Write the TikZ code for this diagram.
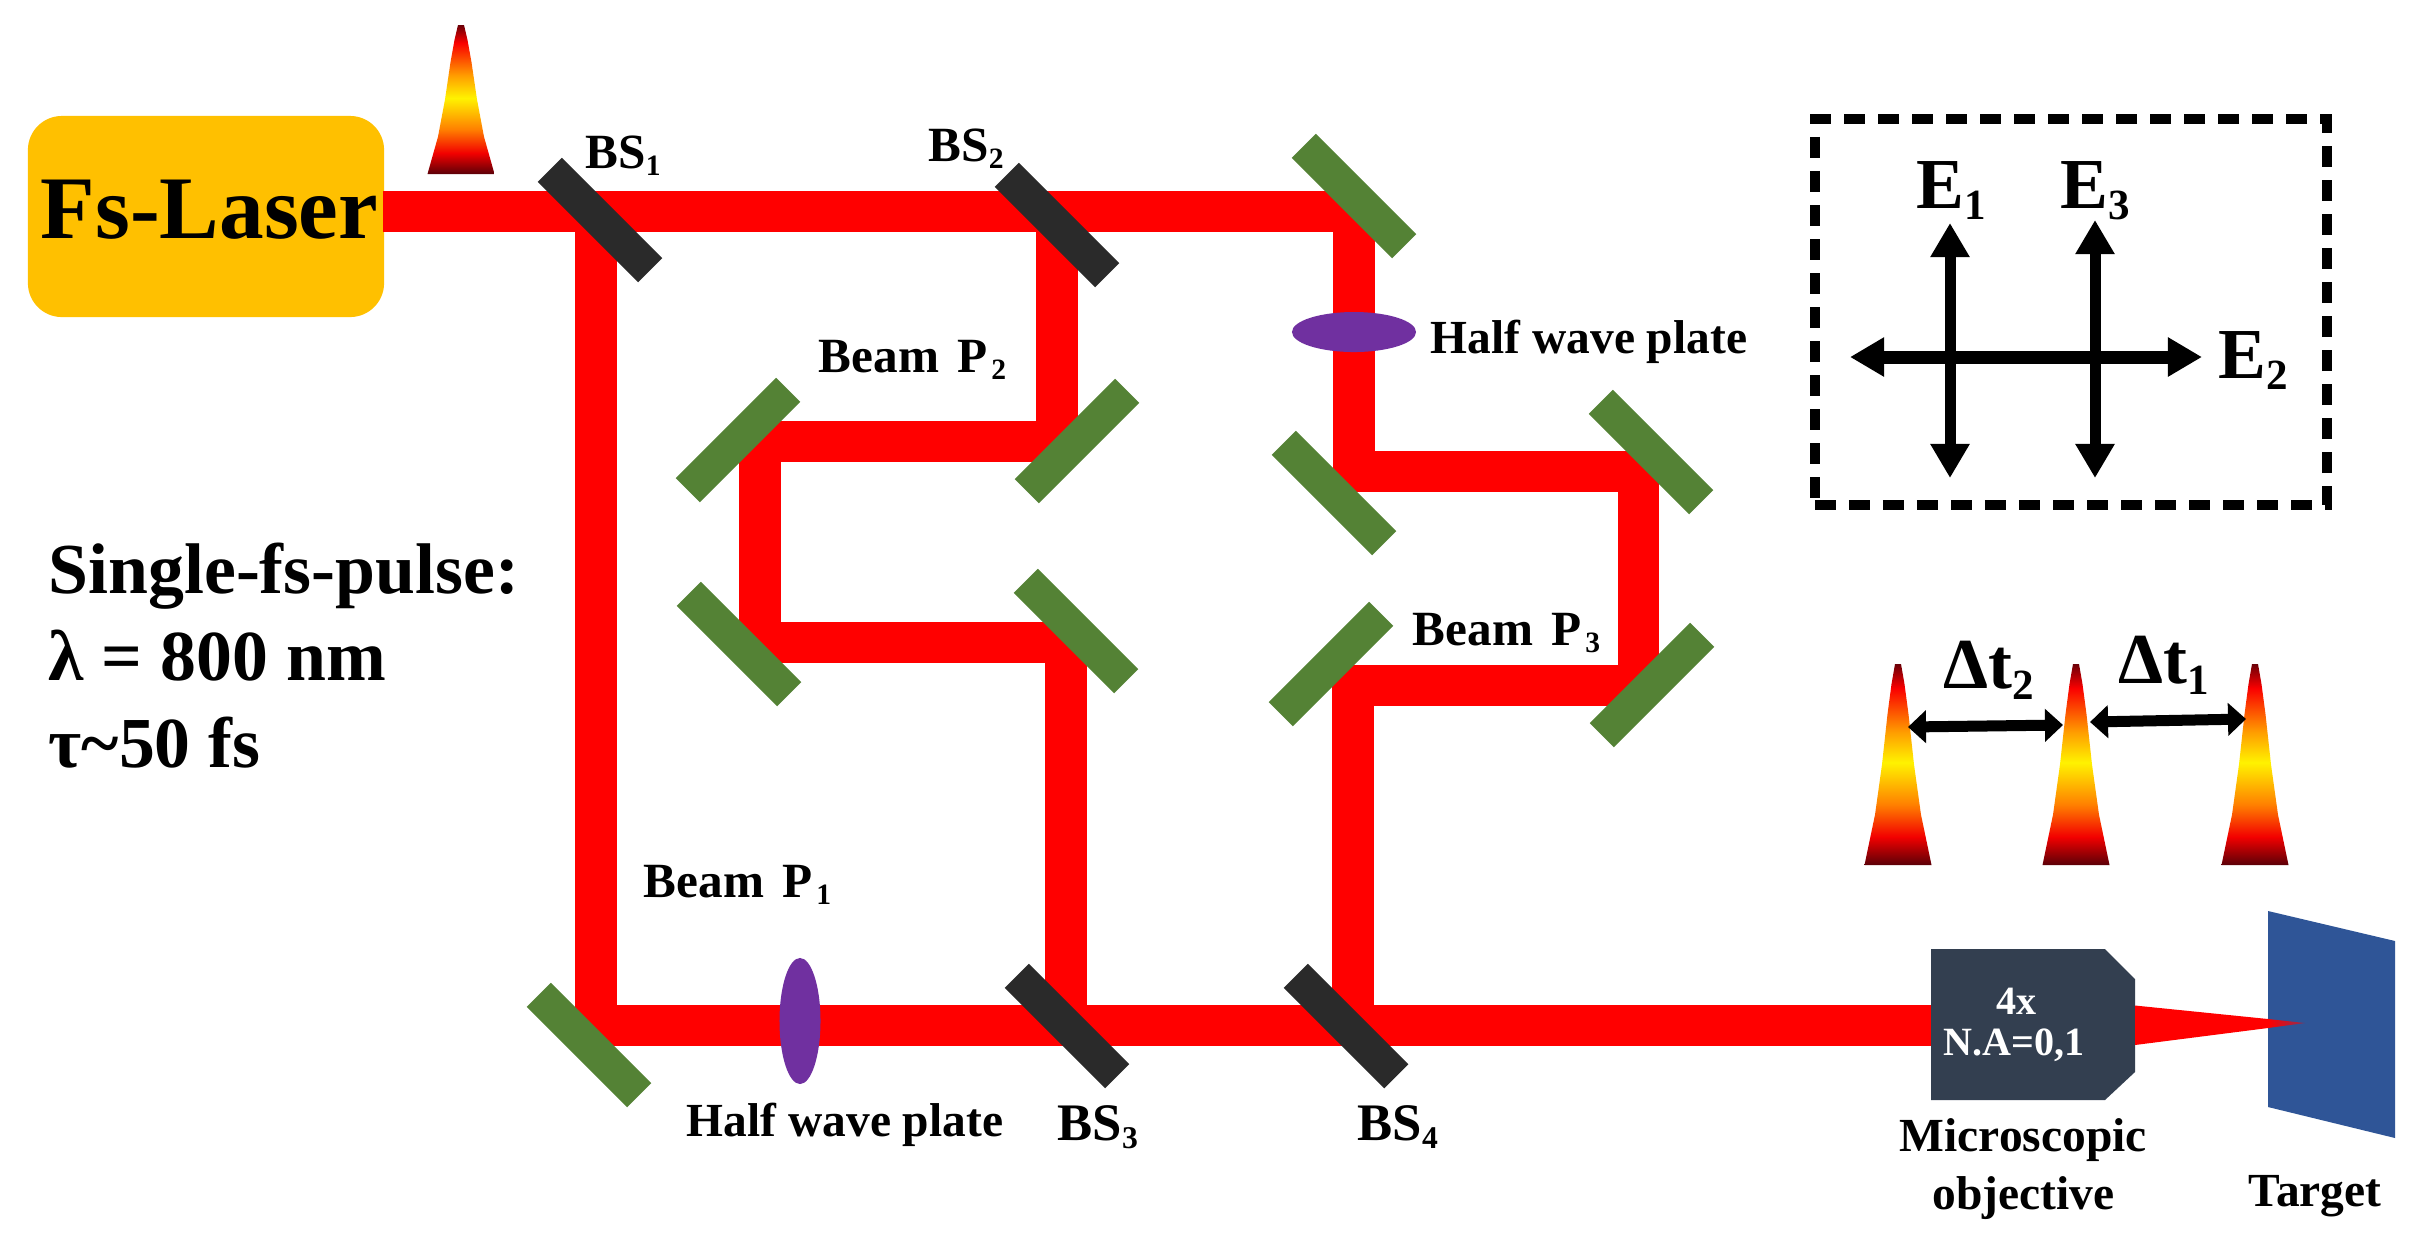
\documentclass[tikz,border=0pt]{standalone}
\usepackage{fontspec}
\setmainfont{Liberation Serif}
\usetikzlibrary{arrows.meta,shapes.geometric}
\definecolor{laserbox}{HTML}{FFC000}
\definecolor{mirrorgreen}{HTML}{548235}
\definecolor{bsdark}{HTML}{2A2A2A}
\definecolor{plate}{HTML}{7030A0}
\definecolor{objdark}{HTML}{333F50}
\definecolor{targetblue}{HTML}{2F5597}
\pgfdeclareverticalshading{pulsegrad}{100bp}{rgb(0bp)=(0.36,0,0.03); rgb(25bp)=(0.36,0,0.03); rgb(32bp)=(0.95,0,0); rgb(40bp)=(1,0.5,0); rgb(50.5bp)=(1,0.95,0); rgb(58bp)=(1,0.62,0); rgb(69bp)=(0.98,0,0); rgb(75bp)=(0.42,0,0.03); rgb(100bp)=(0.42,0,0.03)}
\newcommand{\fspulse}[3]{%
  \begin{scope}[shift={(#1,#2)},yscale=#3]
    \shade[shading=pulsegrad] (-3,0)--(3,0)--(6.5,0.1)--(10.5,0.25)--(16,0.5)--(23,0.75)--(33.5,1)--(-33.5,1)--(-23,0.75)--(-16,0.5)--(-10.5,0.25)--(-6.5,0.1)--cycle;
  \end{scope}}
\newcommand{\subs}[1]{\raisebox{-0.16em}{\scalebox{0.6}{#1}}}
\newcommand{\fsz}[1]{\fontsize{#1}{#1}\selectfont\bfseries}
\tikzset{
  x=0.01cm,y=-0.01cm,
  beam/.style={draw=red,line width=0.41cm,line join=bevel},
  mirrorrect/.style={fill=mirrorgreen,minimum width=1.42cm,minimum height=0.34cm,inner sep=0pt,rectangle},
  bsrect/.style={mirrorrect,fill=bsdark},
  lbl/.style={anchor=base west,inner sep=0pt},
  smalllbl/.style={lbl,font=\fsz{14}},
  midlbl/.style={lbl,font=\fsz{13.5}},
  biglbl/.style={lbl,font=\fsz{20.4}},
  polarrow/.style={line width=0.11cm,{Triangle[length=0.34cm,width=0.37cm]}-{Triangle[length=0.34cm,width=0.37cm]}},
  delayarrow/.style={line width=0.11cm,{Triangle[length=0.18cm,width=0.32cm]}-{Triangle[length=0.18cm,width=0.32cm]}},
}
\begin{document}
\begin{tikzpicture}
\useasboundingbox (0,0) rectangle (2423,1250);
\fill[white] (0,0) rectangle (2423,1250);

% target, behind the cone
\fill[targetblue] (2268,911)--(2395,941)--(2395,1138)--(2268,1107)--cycle;

% laser body
\node[fill=laserbox,rounded corners=0.34cm,minimum width=3.56cm,minimum height=2.01cm,inner sep=0pt] (laser) at (206,216.5) {};

% beam way points
\coordinate (ls) at (383,211);
\coordinate (t1) at (596,211);
\coordinate (t2) at (1057,211);
\coordinate (t3) at (1354,211);
\coordinate (c1) at (1354,471);
\coordinate (c2) at (1638,471);
\coordinate (c3) at (1638,685);
\coordinate (c4) at (1353,685);
\coordinate (c5) at (1353,1025);
\coordinate (p1) at (596,1025);
\coordinate (p2) at (1057,441);
\coordinate (p3) at (760,441);
\coordinate (p4) at (760,642);
\coordinate (p5) at (1066,642);
\coordinate (p6) at (1066,1025);
\coordinate (oin) at (1935,1025);

% beams
\draw[beam] (ls)--(t3)--(c1)--(c2)--(c3)--(c4)--(c5);
\draw[beam] (t1)--(p1)--(oin);
\draw[beam] (t2)--(p2)--(p3)--(p4)--(p5)--(p6);

% objective body
\fill[objdark] (1931,949)--(2105,949)--(2135,979)--(2135,1072)--(2105,1100)--(1931,1100)--cycle;

% focused beam
\fill[red] (2135,1005.5)--(2268,1019)--(2268,1028)--(2135,1045)--cycle;
\shade[left color=red,right color=targetblue!55!red] (2268,1019)--(2305,1023)--(2268,1028)--cycle;

% beam splitters
\node[bsrect,rotate=-45] (bsa) at (600,220) {};
\node[bsrect,rotate=-45] (bsb) at (1057,225) {};
\node[bsrect,rotate=-45] (bsc) at (1067,1026) {};
\node[bsrect,rotate=-45] (bsd) at (1346,1026) {};

% mirrors
\node[mirrorrect,rotate=-45] (m1) at (1354,196) {};
\node[mirrorrect,rotate=-45] (m2) at (1334,493) {};
\node[mirrorrect,rotate=-45] (m3) at (1651,452) {};
\node[mirrorrect,rotate=45] (m4) at (1652,685) {};
\node[mirrorrect,rotate=45] (m5) at (1331,664) {};
\node[mirrorrect,rotate=45] (m6) at (1077,441) {};
\node[mirrorrect,rotate=45] (m7) at (738,440) {};
\node[mirrorrect,rotate=-45] (m8) at (739,644) {};
\node[mirrorrect,rotate=-45] (m9) at (1076,631) {};
\node[mirrorrect,rotate=-45] (m10) at (589,1045) {};

% half wave plates
\node[ellipse,fill=plate,minimum width=1.24cm,minimum height=0.4cm,inner sep=0pt] (hwa) at (1354,332) {};
\node[ellipse,fill=plate,minimum width=0.41cm,minimum height=1.26cm,inner sep=0pt] (hwb) at (800,1021) {};

% pulses
\fspulse{461}{25}{149}
\fspulse{1898}{664}{201}
\fspulse{2076}{664}{201}
\fspulse{2255}{664}{201}

% delay arrows
\coordinate (d1) at (1908,727);
\coordinate (d2) at (2063,725);
\coordinate (d3) at (2090,722);
\coordinate (d4) at (2246,719);
\draw[delayarrow] (d1)--(d2);
\draw[delayarrow] (d3)--(d4);

% polarisation inset
\node[draw=black,line width=0.1cm,dash pattern=on 0.21cm off 0.13cm,minimum width=5.12cm,minimum height=3.86cm,inner sep=0pt] (inset) at (2071,312) {};
\coordinate (e1t) at (1950,223);
\coordinate (e1b) at (1950,478);
\coordinate (e3t) at (2095,220);
\coordinate (e3b) at (2095,478);
\coordinate (e2l) at (1850,357);
\coordinate (e2r) at (2202,357);
\draw[polarrow] (e1t)--(e1b);
\draw[polarrow] (e3t)--(e3b);
\draw[polarrow,line width=0.13cm] (e2l)--(e2r);

% labels
\node[lbl,font=\fsz{25.4}] (tlaser) at (40,238) {Fs-Laser};
\node[smalllbl] (tbsa) at (585,168) {BS\subs{1}};
\node[smalllbl] (tbsb) at (928,161) {BS\subs{2}};
\node[lbl,font=\fsz{15}] (tbsc) at (1057,1140) {BS\subs{3}};
\node[lbl,font=\fsz{15}] (tbsd) at (1357,1140) {BS\subs{4}};
\node[smalllbl] (tpb) at (818,372) {Beam\hspace{0.38em}P\kern1pt\subs{2}};
\node[smalllbl] (tpc) at (1412,645) {Beam\hspace{0.38em}P\kern1pt\subs{3}};
\node[smalllbl] (tpa) at (643,897) {Beam\hspace{0.38em}P\kern1pt\subs{1}};
\node[midlbl] (thwa) at (1430,353) {Half wave plate};
\node[midlbl] (thwb) at (686,1136) {Half wave plate};
\node[biglbl] (ts1) at (48,593) {Single-fs-pulse:};
\node[biglbl] (ts2) at (48,680) {λ = 800 nm};
\node[biglbl] (ts3) at (48,767) {τ\textasciitilde50 fs};
\node[biglbl] (te1) at (1916,208) {E\subs{1}};
\node[biglbl] (te3) at (2060,208) {E\subs{3}};
\node[biglbl] (te2) at (2218,378) {E\subs{2}};
\node[biglbl] (tda) at (1943,688) {Δt\subs{2}};
\node[biglbl] (tdb) at (2118,683) {Δt\subs{1}};
\node[lbl,font=\fsz{11.4},text=white] (to1) at (1996,1014) {4x};
\node[lbl,font=\fsz{11.4},text=white] (to2) at (1943,1055) {N.A=0,1};
\node[midlbl] (tm1) at (1899,1151) {Microscopic};
\node[midlbl] (tm2) at (1932,1209) {objective};
\node[midlbl] (ttg) at (2248,1206) {Target};
\end{tikzpicture}
\end{document}
